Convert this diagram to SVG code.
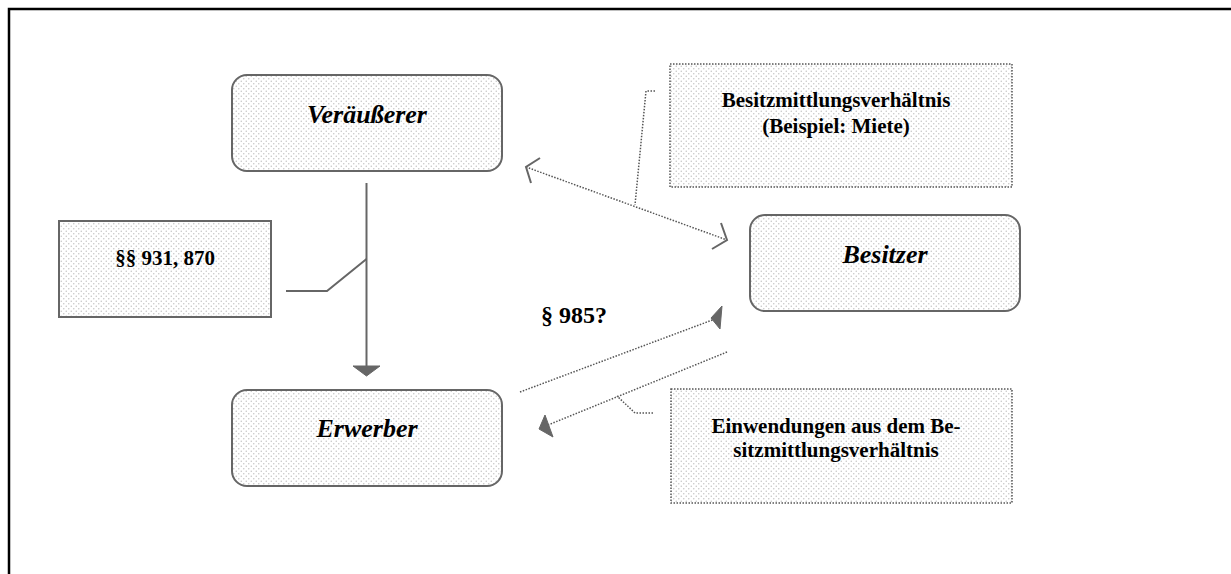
<svg xmlns="http://www.w3.org/2000/svg" width="1231" height="574" viewBox="0 0 1231 574">
<defs>
<pattern id="dots" width="5" height="5" patternUnits="userSpaceOnUse">
<rect width="5" height="5" fill="#fff"/>
<circle cx="1.25" cy="1.25" r="0.75" fill="#c4c4c4"/>
<circle cx="3.75" cy="3.75" r="0.75" fill="#c4c4c4"/>
</pattern>
</defs>
<style>
.rnode{fill:url(#dots);stroke:#666;stroke-width:2}
.snode{fill:url(#dots);stroke:#666;stroke-width:2}
.dnode{fill:url(#dots);stroke:#555;stroke-width:1.5;stroke-dasharray:1.5 1.5}
.it{font-family:"Liberation Serif",serif;font-weight:bold;font-style:italic;font-size:26px;text-anchor:middle;fill:#000}
.bd{font-family:"Liberation Serif",serif;font-weight:bold;font-size:21px;text-anchor:middle;fill:#000}
.solid{fill:none;stroke:#666;stroke-width:2}
.dot{fill:none;stroke:#555;stroke-width:1.5;stroke-dasharray:1.5 1.5}
.head{fill:#666;stroke:#666;stroke-width:1}
</style>
<rect width="1231" height="574" fill="#fff"/>
<path d="M9 574 V9 H1231" fill="none" stroke="#000" stroke-width="2.5"/>
<g id="veraeusserer">
<rect class="rnode" x="232" y="75" width="270" height="96" rx="15"/>
<text class="it" x="367" y="123">Veräußerer</text>
</g>
<g id="besitzer">
<rect class="rnode" x="750" y="215" width="270" height="96" rx="15"/>
<text class="it" x="885" y="263">Besitzer</text>
</g>
<g id="erwerber">
<rect class="rnode" x="232" y="390" width="270" height="96" rx="15"/>
<text class="it" x="367" y="437">Erwerber</text>
</g>
<g id="paragraphen">
<rect class="snode" x="59" y="221" width="212" height="96"/>
<text class="bd" x="165" y="265">§§ 931, 870</text>
</g>
<g id="besitzmittlung">
<rect class="dnode" x="670" y="64" width="342" height="123"/>
<text class="bd" x="836" y="107">Besitzmittlungsverhältnis</text>
<text class="bd" x="836" y="133">(Beispiel: Miete)</text>
</g>
<g id="einwendungen">
<rect class="dnode" x="671" y="389" width="341" height="114"/>
<text class="bd" x="836" y="433">Einwendungen aus dem Be-</text>
<text class="bd" x="836" y="457">sitzmittlungsverhältnis</text>
</g>
<g id="label985">
<text class="bd" x="574" y="323" style="font-size:24px">§ 985?</text>
</g>
<g id="connectors">
<path class="solid" d="M366.5 183 V367"/>
<polygon class="head" points="353,366 380,366 366.5,376"/>
<polyline class="solid" points="286,291 327,291 366.5,259"/>
<path class="dot" d="M526 167 L727 240"/>
<polyline class="solid" points="540,158 526,167 531,183"/>
<polyline class="solid" points="721,223 727,240 712,249"/>
<polyline class="dot" points="655,91 646,91 635,205"/>
<path class="dot" d="M520 392 L715 319"/>
<polygon class="head" points="722,306 720,329 711,318"/>
<path class="dot" d="M727 352 L548 425"/>
<polygon class="head" points="539,429 545,415 553,437"/>
<polyline class="dot" points="653,413 635,413 617,396"/>
</g>
</svg>
